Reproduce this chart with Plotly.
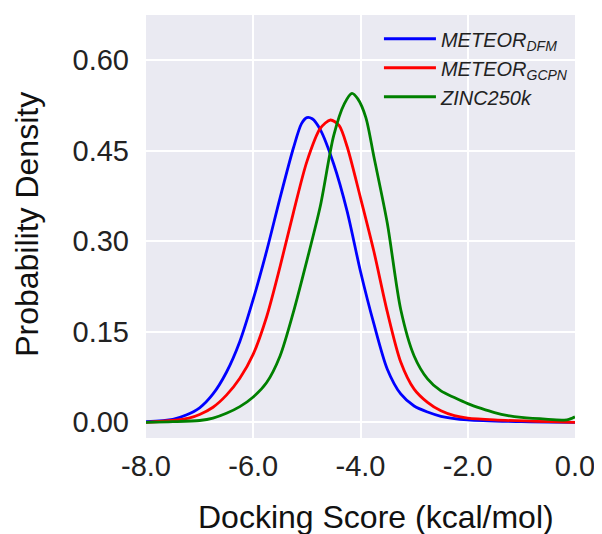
import plotly.graph_objects as go

# ---- data ----
dfm_x = [-8.0, -7.5, -7.25, -7.0, -6.75, -6.5, -6.25, -6.0, -5.75, -5.5, -5.25, -5.1, -5.0, -4.9,
         -4.75, -4.5, -4.25, -4.0, -3.75, -3.5, -3.25, -3.0, -2.75, -2.5, -2.0, -1.0, 0.0]
dfm_y = [0.001, 0.005, 0.012, 0.024, 0.047, 0.083, 0.134, 0.204, 0.284, 0.372, 0.455, 0.495,
         0.505, 0.503, 0.485, 0.428, 0.350, 0.250, 0.163, 0.088, 0.047, 0.027, 0.017, 0.010,
         0.004, 0.001, 0.0]

gcpn_x = [-8.0, -7.5, -7.2, -7.0, -6.75, -6.5, -6.25, -6.0, -5.75, -5.5, -5.25, -5.0, -4.75,
          -4.56, -4.4, -4.25, -4.0, -3.75, -3.5, -3.25, -3.0, -2.75, -2.5, -2.25, -2.0, -1.5,
          -0.5, 0.0]
gcpn_y = [0.000, 0.003, 0.007, 0.013, 0.025, 0.045, 0.073, 0.113, 0.175, 0.258, 0.348, 0.432,
          0.487, 0.501, 0.492, 0.457, 0.372, 0.283, 0.183, 0.100, 0.055, 0.033, 0.019, 0.011,
          0.007, 0.004, 0.001, 0.0]

zinc_x = [-8.0, -7.5, -7.0, -6.75, -6.5, -6.25, -6.0, -5.75, -5.5, -5.25, -5.0, -4.75, -4.5,
          -4.3, -4.16, -4.05, -3.9, -3.75, -3.5, -3.25, -3.0, -2.75, -2.5, -2.25, -2.0, -1.75,
          -1.5, -1.25, -1.0, -0.5, -0.15, -0.05, 0.0]
zinc_y = [0.000, 0.001, 0.003, 0.007, 0.015, 0.026, 0.042, 0.066, 0.110, 0.183, 0.268, 0.358,
          0.475, 0.528, 0.545, 0.536, 0.505, 0.440, 0.330, 0.187, 0.110, 0.072, 0.052, 0.041,
          0.031, 0.023, 0.016, 0.011, 0.008, 0.005, 0.004, 0.007, 0.009]

x_ticks = [-8.0, -6.0, -4.0, -2.0, 0.0]
y_ticks = [0.00, 0.15, 0.30, 0.45, 0.60]

series = [
    ("METEOR<sub>DFM</sub>", dfm_x, dfm_y, "#0000FF"),
    ("METEOR<sub>GCPN</sub>", gcpn_x, gcpn_y, "#FF0000"),
    ("ZINC250k", zinc_x, zinc_y, "#008000"),
]

fig = go.Figure()
for name, xs, ys, col in series:
    fig.add_trace(go.Scatter(
        x=xs, y=ys, mode="lines", name="<i>" + name + "</i>",
        line=dict(color=col, width=2.8, shape="spline", smoothing=0.8),
    ))

font_family = "Liberation Sans, Arial, sans-serif"

# The page body has an 8px margin, so the figure is drawn 8px in from the corner.
fig.update_layout(
    width=594, height=526,
    margin=dict(l=138, r=24, t=7, b=96),
    paper_bgcolor="white",
    plot_bgcolor="#EAEAF2",
    font=dict(family=font_family, color="#222222"),
    showlegend=True,
    legend=dict(
        x=0.543, y=0.99, xanchor="left", yanchor="top",
        bgcolor="rgba(0,0,0,0)", borderwidth=0,
        font=dict(size=20, color="#222222", family=font_family),
        itemwidth=52, tracegroupgap=0,
    ),
    xaxis=dict(
        range=[-8.0, 0.0], tickvals=x_ticks,
        ticktext=["%.1f" % v for v in x_ticks],
        tickfont=dict(size=29, color="#222222"),
        showgrid=True, gridcolor="white", gridwidth=1.8,
        zeroline=False, showline=False, ticks="", ticklabelstandoff=8,
    ),
    yaxis=dict(
        range=[-0.026, 0.675], tickvals=y_ticks,
        ticktext=["%.2f" % v for v in y_ticks],
        tickfont=dict(size=29, color="#222222"),
        showgrid=True, gridcolor="white", gridwidth=1.8,
        zeroline=False, showline=False, ticks="", ticklabelstandoff=16,
    ),
    annotations=[
        dict(text="Docking Score (kcal/mol)", xref="paper", yref="paper",
             x=(378 - 146) / 432, y=(438 - 517) / 423, xanchor="center", yanchor="middle",
             showarrow=False, font=dict(size=32, color="#111111", family=font_family)),
        dict(text="Probability Density", xref="paper", yref="paper",
             x=(26 - 146) / 432, y=(438 - 224) / 423, xanchor="center", yanchor="middle",
             textangle=-90, showarrow=False,
             font=dict(size=32, color="#111111", family=font_family)),
    ],
)

fig.write_html("out.html")
